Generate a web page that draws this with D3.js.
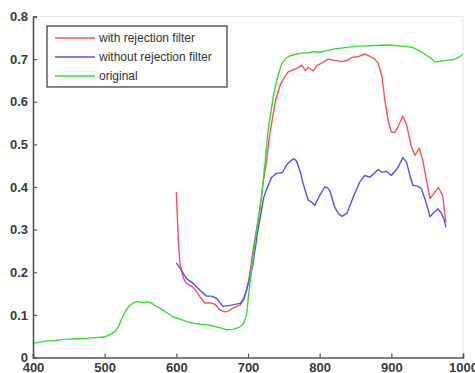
<!DOCTYPE html>
<html>
<head>
<meta charset="utf-8">
<script src="https://cdn.jsdelivr.net/npm/d3@7"></script>
<style>
  body { margin: 0; background: #fff; }
  svg { display: block; font-family: Arial, "Liberation Sans", sans-serif; }
</style>
</head>
<body>
<svg id="chart" width="475" height="373"></svg>
<script>
// wavelength / value pairs
const origX = [400, 410, 420, 430, 440, 450, 460, 470, 480, 490, 500, 505, 510, 515, 520, 525, 530, 535, 540, 545, 550, 555, 560, 565, 570, 577, 585, 596, 605, 615, 625, 633, 642, 651, 660, 670, 679, 689, 694, 698, 701, 706, 712, 719, 724, 728, 735, 740, 747, 753, 759, 768, 775, 785, 793, 800, 810, 821, 835, 849, 863, 877, 891, 905, 918, 929, 936, 943, 950, 957, 961, 968, 975, 982, 989, 995, 1000];
const origY = [0.033, 0.036, 0.039, 0.040, 0.042, 0.043, 0.044, 0.044, 0.046, 0.047, 0.048, 0.052, 0.056, 0.062, 0.075, 0.095, 0.112, 0.122, 0.128, 0.131, 0.130, 0.129, 0.130, 0.128, 0.122, 0.116, 0.107, 0.095, 0.090, 0.084, 0.080, 0.078, 0.077, 0.074, 0.070, 0.065, 0.066, 0.072, 0.080, 0.100, 0.150, 0.220, 0.300, 0.377, 0.460, 0.533, 0.609, 0.650, 0.689, 0.702, 0.708, 0.712, 0.714, 0.715, 0.718, 0.716, 0.720, 0.724, 0.727, 0.730, 0.731, 0.732, 0.733, 0.732, 0.730, 0.728, 0.722, 0.716, 0.708, 0.700, 0.693, 0.695, 0.697, 0.698, 0.700, 0.705, 0.712];

const withX = [600, 601, 603, 605, 610, 614, 618, 623, 628, 633, 640, 647, 654, 661, 668, 674, 679, 689, 694, 698, 702, 707, 712, 717, 721, 726, 730, 733, 738, 745, 750, 756, 763, 770, 775, 780, 784, 791, 796, 804, 812, 821, 831, 840, 845, 854, 863, 868, 877, 882, 887, 891, 896, 900, 905, 909, 916, 921, 928, 933, 939, 944, 949, 954, 961, 966, 972, 975, 976];
const withY = [0.388, 0.345, 0.268, 0.221, 0.186, 0.174, 0.170, 0.166, 0.155, 0.142, 0.128, 0.128, 0.125, 0.111, 0.107, 0.110, 0.116, 0.123, 0.135, 0.158, 0.190, 0.252, 0.300, 0.353, 0.410, 0.462, 0.520, 0.550, 0.600, 0.640, 0.655, 0.670, 0.675, 0.680, 0.686, 0.673, 0.681, 0.672, 0.685, 0.692, 0.700, 0.697, 0.694, 0.698, 0.704, 0.706, 0.712, 0.708, 0.700, 0.690, 0.658, 0.603, 0.553, 0.529, 0.528, 0.540, 0.566, 0.548, 0.494, 0.474, 0.491, 0.462, 0.416, 0.373, 0.388, 0.399, 0.377, 0.330, 0.318];

const withoutX = [600, 607, 614, 623, 633, 642, 649, 656, 665, 677, 689, 694, 698, 703, 707, 714, 722, 726, 733, 740, 748, 754, 760, 764, 768, 773, 777, 784, 789, 793, 800, 807, 811, 814, 821, 826, 831, 838, 847, 856, 863, 870, 876, 882, 886, 889, 893, 900, 908, 912, 916, 921, 926, 930, 937, 942, 949, 954, 958, 965, 970, 974, 976];
const withoutY = [0.222, 0.205, 0.185, 0.175, 0.158, 0.144, 0.144, 0.139, 0.120, 0.123, 0.127, 0.138, 0.158, 0.190, 0.220, 0.300, 0.376, 0.395, 0.423, 0.432, 0.434, 0.452, 0.462, 0.467, 0.460, 0.435, 0.408, 0.369, 0.364, 0.357, 0.380, 0.400, 0.398, 0.392, 0.353, 0.338, 0.331, 0.338, 0.377, 0.412, 0.427, 0.423, 0.432, 0.441, 0.435, 0.435, 0.437, 0.427, 0.443, 0.455, 0.469, 0.459, 0.427, 0.404, 0.402, 0.396, 0.361, 0.330, 0.338, 0.349, 0.338, 0.322, 0.306];

const xTicks = [400, 500, 600, 700, 800, 900, 1000];
const yTicks = [0, 0.1, 0.2, 0.3, 0.4, 0.5, 0.6, 0.7, 0.8];

const seriesNames = ['with rejection filter', 'without rejection filter', 'original'];
const seriesColors = ['#ff5050', '#5050ff', '#30e030'];

const margin = { top: 16.5, right: 12, bottom: 15.5, left: 33 };
const width = 475 - margin.left - margin.right;
const height = 373 - margin.top - margin.bottom;

const svg = d3.select('#chart');
const g = svg.append('g').attr('transform', `translate(${margin.left},${margin.top})`);

const x = d3.scaleLinear().domain([400, 1000]).range([0, width]);
const y = d3.scaleLinear().domain([0, 0.8]).range([height, 0]);

// light box on top/right
g.append('path')
  .attr('d', `M0,0H${width}V${height}`)
  .attr('fill', 'none')
  .attr('stroke', '#e8e8e8')
  .attr('stroke-width', 1);

const series = [
  { xs: withX, ys: withY },
  { xs: withoutX, ys: withoutY },
  { xs: origX, ys: origY }
];

const line = d3.line()
  .x(d => x(d[0]))
  .y(d => y(d[1]));

series.forEach((s, i) => {
  const pts = s.xs.map((v, k) => [v, s.ys[k]]);
  g.append('path')
    .datum(pts)
    .attr('fill', 'none')
    .attr('stroke', seriesColors[i])
    .attr('stroke-width', 1.4)
    .attr('stroke-linejoin', 'round')
    .attr('d', line);
});

// axes
const xAxis = g.append('g')
  .attr('transform', `translate(0,${height})`)
  .call(d3.axisBottom(x).tickValues(xTicks).tickSize(-4).tickPadding(7).tickFormat(d3.format('d')));

const yAxis = g.append('g')
  .call(d3.axisLeft(y).tickValues(yTicks).tickSize(-4).tickPadding(5).tickFormat(d => d === 0 ? '0' : d3.format('.1f')(d)));

[xAxis, yAxis].forEach(a => {
  a.select('.domain').attr('stroke', '#555').attr('stroke-width', 1.6);
  a.selectAll('.tick line').attr('stroke', '#555').attr('stroke-width', 1.2);
  a.selectAll('.tick text')
    .attr('fill', '#3a3a3a')
    .attr('font-size', 13)
    .attr('font-weight', 'bold')
    .attr('font-family', 'Arial, "Liberation Sans", sans-serif');
});
xAxis.selectAll('.tick text').attr('dy', '0.55em');

// legend
const legend = svg.append('g').attr('transform', 'translate(47,26)');
legend.append('rect')
  .attr('width', 180)
  .attr('height', 61)
  .attr('fill', '#fff')
  .attr('stroke', '#444')
  .attr('stroke-width', 1.3);

seriesNames.forEach((name, i) => {
  const row = legend.append('g').attr('transform', `translate(0,${12 + i * 19})`);
  row.append('line')
    .attr('x1', 8).attr('x2', 48)
    .attr('stroke', seriesColors[i])
    .attr('stroke-width', 1.4);
  row.append('text')
    .attr('x', 52)
    .attr('dy', '0.35em')
    .attr('font-size', 12)
    .attr('fill', '#333')
    .text(name);
});
</script>
</body>
</html>
